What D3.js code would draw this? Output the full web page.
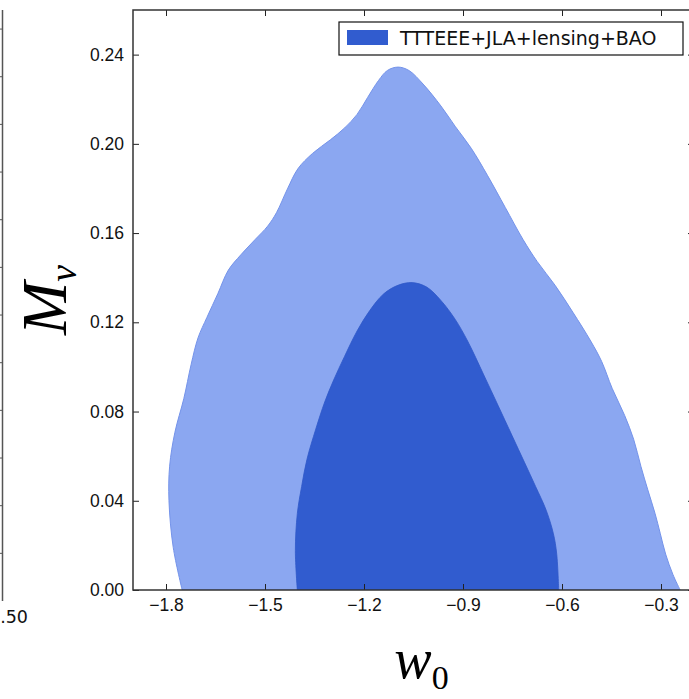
<!DOCTYPE html>
<html>
<head>
<meta charset="utf-8">
<script src="https://cdnjs.cloudflare.com/ajax/libs/d3/7.8.5/d3.min.js"></script>
<style>
body { margin: 0; background: #fff; }
svg { display: block; }
</style>
</head>
<body>
<script>
// 2D marginal contours, w0 vs M_nu
var outer95 = [
[-1.751, 0], [-1.778, 0.019], [-1.791, 0.040], [-1.789, 0.0555], [-1.773, 0.0707],
[-1.746, 0.0858], [-1.724, 0.101], [-1.703, 0.113], [-1.676, 0.1222], [-1.643, 0.1328],
[-1.611, 0.1434], [-1.573, 0.1503], [-1.530, 0.1571], [-1.492, 0.1631], [-1.465, 0.1692],
[-1.432, 0.1798], [-1.400, 0.1889], [-1.356, 0.1957], [-1.302, 0.2018], [-1.259, 0.2071],
[-1.221, 0.2132], [-1.189, 0.2208], [-1.156, 0.2284], [-1.129, 0.2329], [-1.097, 0.2344],
[-1.064, 0.2329], [-1.021, 0.2268], [-0.967, 0.2170], [-0.924, 0.2079], [-0.875, 0.1980],
[-0.826, 0.1859], [-0.772, 0.1715], [-0.718, 0.1571], [-0.675, 0.1472], [-0.621, 0.1366],
[-0.567, 0.1245], [-0.513, 0.1116], [-0.480, 0.1025], [-0.448, 0.0904], [-0.410, 0.0782],
[-0.383, 0.0676], [-0.361, 0.0555], [-0.340, 0.0449], [-0.318, 0.0343], [-0.302, 0.0252],
[-0.286, 0.0161], [-0.264, 0.0070], [-0.242, 0]
];
var inner68 = [
[-1.402, 0], [-1.408, 0.0176], [-1.402, 0.0343], [-1.389, 0.0464], [-1.373, 0.0585],
[-1.346, 0.0722], [-1.319, 0.0843], [-1.292, 0.0941], [-1.259, 0.1047], [-1.221, 0.1161],
[-1.183, 0.1252], [-1.140, 0.1328], [-1.097, 0.1366], [-1.054, 0.1378], [-1.010, 0.1358],
[-0.967, 0.1298], [-0.924, 0.1214], [-0.886, 0.1116], [-0.837, 0.0964], [-0.794, 0.0828],
[-0.751, 0.0691], [-0.713, 0.0570], [-0.680, 0.0464], [-0.648, 0.0358], [-0.626, 0.0252],
[-0.616, 0.0161], [-0.610, 0]
];
var xTicks = [-1.8, -1.5, -1.2, -0.9, -0.6, -0.3];
var yTicks = [0.00, 0.04, 0.08, 0.12, 0.16, 0.20, 0.24];
var legendLabel = "TTTEEE+JLA+lensing+BAO";
// neighbouring panel, only its right edge is in view
var leftPanelTicks = [0.02, 0.04, 0.06, 0.08, 0.10, 0.12, 0.14, 0.16, 0.18, 0.20, 0.22, 0.24];
var leftPanelLabel = "1.50";

var width = 689, height = 699;
var pLeft = 133, pTop = 10, pRight = 694, pBottom = 590;

var svg = d3.select("body").append("svg")
  .attr("width", width)
  .attr("height", height)
  .style("font-family", "DejaVu Sans, sans-serif");

var x = d3.scaleLinear().domain([-1.9, -0.2]).range([pLeft, pRight]);
var y = d3.scaleLinear().domain([0, 0.26]).range([pBottom, pTop]);

svg.append("defs").append("clipPath").attr("id", "plotclip")
  .append("rect")
  .attr("x", pLeft).attr("y", pTop)
  .attr("width", pRight - pLeft).attr("height", pBottom - pTop);

var line = d3.line()
  .x(d => x(d[0]))
  .y(d => y(d[1]))
  .curve(d3.curveCatmullRom.alpha(0.5));

var g = svg.append("g").attr("clip-path", "url(#plotclip)");
g.append("path")
  .attr("d", line(outer95) + "Z")
  .attr("fill", "#8ba7f1")
  .attr("stroke", "#7493ea")
  .attr("stroke-width", 1);
g.append("path")
  .attr("d", line(inner68) + "Z")
  .attr("fill", "#315ccf")
  .attr("stroke", "#2f58c8")
  .attr("stroke-width", 0.8);

// axes, ticks pointing inwards on all four sides
var tickColor = "#222";
svg.append("g").attr("transform", "translate(0," + pBottom + ")")
  .call(d3.axisBottom(x).tickValues(xTicks).tickFormat(d3.format(".1f")).tickSizeInner(-6).tickSizeOuter(0).tickPadding(9))
  .call(a => a.select(".domain").remove())
  .call(a => a.selectAll("text").attr("font-size", 17.5).attr("fill", "#111"))
  .call(a => a.selectAll("line").attr("stroke", tickColor));
svg.append("g").attr("transform", "translate(0," + pTop + ")")
  .call(d3.axisTop(x).tickValues(xTicks).tickSizeInner(-6).tickSizeOuter(0).tickFormat(""))
  .call(a => a.select(".domain").remove())
  .call(a => a.selectAll("line").attr("stroke", tickColor));
svg.append("g").attr("transform", "translate(" + pLeft + ",0)")
  .call(d3.axisLeft(y).tickValues(yTicks).tickFormat(d3.format(".2f")).tickSizeInner(-6).tickSizeOuter(0).tickPadding(9))
  .call(a => a.select(".domain").remove())
  .call(a => a.selectAll("text").attr("font-size", 17.5).attr("fill", "#111"))
  .call(a => a.selectAll("line").attr("stroke", tickColor));
svg.append("g").attr("transform", "translate(" + pRight + ",0)")
  .call(d3.axisRight(y).tickValues(yTicks).tickSizeInner(-6).tickSizeOuter(0).tickFormat(""))
  .call(a => a.select(".domain").remove())
  .call(a => a.selectAll("line").attr("stroke", tickColor));

svg.append("rect")
  .attr("x", pLeft).attr("y", pTop)
  .attr("width", pRight - pLeft).attr("height", pBottom - pTop)
  .attr("fill", "none")
  .attr("stroke", "#333")
  .attr("stroke-width", 1.5);

// legend
var lg = svg.append("g").attr("transform", "translate(339,22)");
lg.append("rect")
  .attr("width", 344).attr("height", 33)
  .attr("fill", "#fff")
  .attr("stroke", "#111")
  .attr("stroke-width", 1.2);
lg.append("rect")
  .attr("x", 8).attr("y", 8).attr("width", 41).attr("height", 15)
  .attr("fill", "#315ccf");
lg.append("text")
  .attr("x", 61).attr("y", 23)
  .attr("font-size", 19)
  .attr("fill", "#111")
  .text(legendLabel);

// axis labels
var xl = svg.append("text")
  .attr("x", (pLeft + pRight) / 2 + 8).attr("y", 678)
  .attr("text-anchor", "middle")
  .style("font-family", "Liberation Serif, serif")
  .attr("fill", "#000");
xl.append("tspan").attr("font-size", 56).attr("font-style", "italic").text("w");
xl.append("tspan").attr("font-size", 34).attr("dy", 11).text("0");

var yl = svg.append("text")
  .attr("transform", "translate(66," + ((pTop + pBottom) / 2) + ") rotate(-90)")
  .attr("text-anchor", "middle")
  .style("font-family", "Liberation Serif, serif")
  .attr("fill", "#000");
yl.append("tspan").attr("font-size", 64).attr("font-style", "italic").text("M");
yl.append("tspan").attr("font-size", 38).attr("font-style", "italic").attr("dy", 10).text("\u03bd");

// right edge of the neighbouring panel
var ly = d3.scaleLinear().domain([0, 0.248]).range([601, 10]);
svg.append("line")
  .attr("x1", 2.5).attr("x2", 2.5)
  .attr("y1", ly(0)).attr("y2", ly(0.248))
  .attr("stroke", "#555").attr("stroke-width", 1.5);
svg.append("g").selectAll("line")
  .data(leftPanelTicks)
  .enter().append("line")
  .attr("x1", 0).attr("x2", 2.5)
  .attr("y1", d => ly(d)).attr("y2", d => ly(d))
  .attr("stroke", "#555");
svg.append("text")
  .attr("x", 28).attr("y", 623)
  .attr("text-anchor", "end")
  .attr("font-size", 17.5)
  .attr("fill", "#111")
  .text(leftPanelLabel);
</script>
</body>
</html>
